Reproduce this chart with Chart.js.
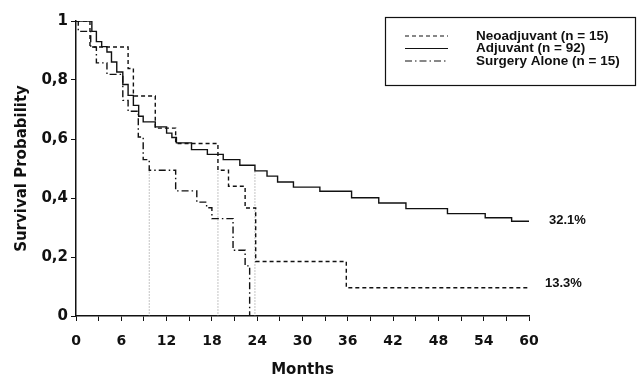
<!DOCTYPE html>
<html>
<head>
<meta charset="utf-8">
<script src="https://cdn.jsdelivr.net/npm/chart.js@4/dist/chart.umd.min.js"></script>
<style>
  html, body { margin: 0; padding: 0; background: #fff; }
  #wrap { width: 637px; height: 381px; }
</style>
</head>
<body>
<div id="wrap"><canvas id="c" width="637" height="381"></canvas></div>
<script>
// ---- data ----
const seriesNames = ["Neoadjuvant (n = 15)", "Adjuvant (n = 92)", "Surgery Alone (n = 15)"];

const neoMonths = [0, 1.85, 6.9, 7.6, 10.5, 13.2, 18.8, 20.2, 22.4, 23.8, 35.8, 60];
const neoSurv   = [1, 0.912, 0.839, 0.746, 0.637, 0.585, 0.494, 0.44, 0.366, 0.185, 0.096, 0.096];

const adjMonths = [0, 2.1, 2.7, 3.4, 4.1, 4.7, 5.4, 6.2, 6.9, 7.6, 8.3, 8.9, 10.5, 12.0, 12.7, 13.3, 15.3, 17.4, 19.5, 21.7, 23.7, 25.3, 26.7, 28.8, 32.3, 36.5, 40.1, 43.7, 49.2, 54.2, 57.7, 60];
const adjSurv   = [1, 0.965, 0.93, 0.913, 0.895, 0.861, 0.827, 0.785, 0.748, 0.714, 0.677, 0.658, 0.641, 0.62, 0.605, 0.587, 0.564, 0.548, 0.53, 0.511, 0.492, 0.474, 0.454, 0.437, 0.423, 0.401, 0.383, 0.364, 0.347, 0.333, 0.321, 0.321];

const surgMonths = [0, 0.3, 1.95, 2.7, 4.1, 6.2, 6.9, 8.25, 8.9, 9.7, 13.2, 16.0, 17.3, 18.0, 20.8, 22.4, 23.0];
const surgSurv   = [1, 0.965, 0.912, 0.858, 0.819, 0.731, 0.694, 0.607, 0.53, 0.494, 0.424, 0.386, 0.367, 0.33, 0.223, 0.17, 0];

const medianMonths = [9.7, 18.8, 23.7];   // dotted median drop lines
const medianLevel = 0.5;

const endLabels = ["32.1%", "13.3%"];
const endLabelLevels = [0.321, 0.096];

const xTickStep = 3, xLabelStep = 6;
const yTickValues = [0, 0.2, 0.4, 0.6, 0.8, 1];

// ---- build ----
const toPts = (xs, ys) => xs.map((x, i) => ({ x: x, y: ys[i] }));
const FONT = "'Liberation Sans', Arial, sans-serif";
const WIDE = "'DejaVu Sans', 'Liberation Sans', sans-serif";
const INK = "#111";
const styles = [
  { dash: [4, 3] },
  { dash: [] },
  { dash: [7, 3, 1.5, 3] }
];

const datasets = [
  { label: seriesNames[0], data: toPts(neoMonths, neoSurv), borderDash: styles[0].dash },
  { label: seriesNames[1], data: toPts(adjMonths, adjSurv), borderDash: styles[1].dash },
  { label: seriesNames[2], data: toPts(surgMonths, surgSurv), borderDash: styles[2].dash }
].map(d => Object.assign(d, {
  showLine: true, stepped: 'before', borderColor: INK, borderWidth: 1.4,
  pointRadius: 0, fill: false
}));

medianMonths.forEach(m => {
  datasets.push({
    label: '_median', data: [{ x: m, y: medianLevel }, { x: m, y: 0 }],
    showLine: true, borderColor: '#888', borderWidth: 1, borderDash: [1, 2],
    pointRadius: 0, fill: false
  });
});

const decorPlugin = {
  id: 'decor',
  afterDraw(chart) {
    const ctx = chart.ctx, ys = chart.scales.y, ca = chart.chartArea;
    ctx.save();
    ctx.fillStyle = INK;
    // axis titles
    ctx.font = "bold 15px " + WIDE;
    ctx.textAlign = 'center'; ctx.textBaseline = 'middle';
    ctx.fillText("Months", (ca.left + ca.right) / 2, 370);
    ctx.save();
    ctx.translate(22, (ca.top + ca.bottom) / 2);
    ctx.rotate(-Math.PI / 2);
    ctx.fillText("Survival Probability", 0, 0);
    ctx.restore();
    // end labels
    ctx.font = "bold 13px " + FONT;
    ctx.textAlign = 'left';
    ctx.fillText(endLabels[0], 549, ys.getPixelForValue(endLabelLevels[0]) - 1);
    ctx.fillText(endLabels[1], 545, ys.getPixelForValue(endLabelLevels[1]) - 4);
    // legend box
    ctx.strokeStyle = INK; ctx.lineWidth = 1.2;
    ctx.strokeRect(385.5, 17.5, 250, 68);
    const rows = [36, 48.5, 61];
    ctx.font = "bold 13.5px " + FONT;
    rows.forEach((ry, i) => {
      ctx.beginPath();
      ctx.setLineDash(styles[i].dash);
      ctx.lineWidth = 1.2;
      ctx.moveTo(405, ry); ctx.lineTo(448, ry);
      ctx.stroke();
      ctx.setLineDash([]);
      ctx.fillText(seriesNames[i], 476, ry);
    });
    ctx.restore();
  }
};

new Chart(document.getElementById('c'), {
  type: 'scatter',
  data: { datasets: datasets },
  options: {
    responsive: false,
    animation: false,
    layout: { padding: { top: 21, right: 108, left: 0, bottom: 0 } },
    plugins: { legend: { display: false }, tooltip: { enabled: false } },
    scales: {
      x: {
        type: 'linear', min: 0, max: 60,
        afterFit: s => { s.height = 65; },
        afterBuildTicks: s => {
          const t = [];
          for (let v = 0; v <= 60; v += xTickStep) t.push({ value: v });
          s.ticks = t;
        },
        ticks: {
          autoSkip: false, maxRotation: 0, padding: 12, color: INK,
          font: { family: WIDE, size: 14, weight: 'bold' },
          callback: v => (v % xLabelStep === 0 ? String(v) : '')
        },
        grid: { display: true, drawOnChartArea: false, drawTicks: true, tickLength: 5, color: INK, lineWidth: 1 },
        border: { display: true, color: INK, width: 1.5 }
      },
      y: {
        type: 'linear', min: 0, max: 1,
        afterFit: s => { s.width = 76; },
        afterBuildTicks: s => { s.ticks = yTickValues.map(v => ({ value: v })); },
        ticks: {
          padding: 3, color: INK,
          font: { family: WIDE, size: 15, weight: 'bold' },
          callback: v => String(Math.round(v * 10) / 10).replace('.', ',')
        },
        grid: { display: true, drawOnChartArea: false, drawTicks: true, tickLength: 5, color: INK, lineWidth: 1 },
        border: { display: true, color: INK, width: 1.5 }
      }
    }
  },
  plugins: [decorPlugin]
});
</script>
</body>
</html>
